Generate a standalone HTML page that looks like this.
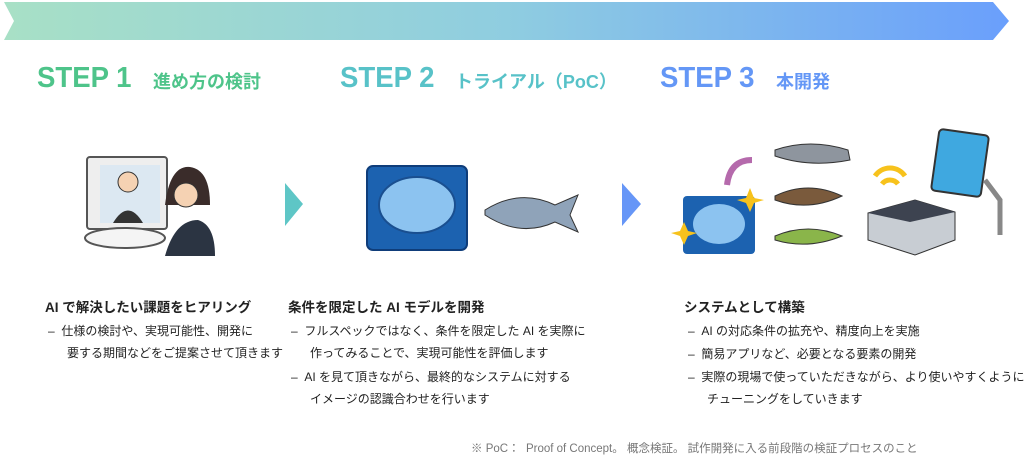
<!DOCTYPE html>
<html><head><meta charset="utf-8"><style>
body{margin:0;width:1024px;height:463px;background:#fff;position:relative;overflow:hidden;font-family:"Liberation Sans","Noto Sans CJK JP",sans-serif;color:#222}
.a{position:absolute;white-space:nowrap}
.step{font-weight:bold;font-size:29px;top:62px;transform:scaleX(0.95);transform-origin:left}
.sub{font-weight:bold;font-size:18px;top:68px}
.h{font-weight:bold;font-size:13.5px}
.b{font-size:12px}
</style></head><body>
<svg class="a" style="left:0;top:0" width="1024" height="463">
<defs><linearGradient id="g" x1="0" x2="1"><stop offset="0" stop-color="#a8e0c6"/><stop offset="0.5" stop-color="#8fcde0"/><stop offset="1" stop-color="#6a9ffc"/></linearGradient></defs>
<polygon points="4,2 993,2 1009,21 993,40 4,40 14,21" fill="url(#g)"/>
<polygon points="285,183 303,204 285,226" fill="#5ec6c6"/>
<polygon points="622,183 641,204 622,226" fill="#6696f7"/>
<rect x="87" y="157" width="80" height="72" rx="3" fill="#eee" stroke="#555" stroke-width="2"/>
<rect x="100" y="165" width="60" height="58" fill="#dce8f2"/>
<circle cx="128" cy="182" r="10" fill="#f5d2b3" stroke="#333"/>
<path d="M113 223 Q128 198 143 223Z" fill="#333"/>
<ellipse cx="125" cy="238" rx="40" ry="10" fill="#f4f4f4" stroke="#555" stroke-width="2"/>
<path d="M165 205 Q170 165 190 167 Q210 170 210 205 Z" fill="#3a2c2a"/>
<circle cx="186" cy="195" r="12" fill="#f5d2b3" stroke="#333"/>
<path d="M165 256 Q175 220 198 220 Q215 225 215 256 Z" fill="#2b3442"/>
<rect x="367" y="166" width="100" height="84" rx="6" fill="#1c62b0" stroke="#0f3d7a" stroke-width="2"/>
<ellipse cx="417" cy="205" rx="38" ry="28" fill="#8cc3f0" stroke="#1a4f90" stroke-width="2"/>
<path d="M485 210 Q520 188 555 205 L578 195 L570 215 L578 232 L555 222 Q520 238 485 215Z" fill="#8fa3b9" stroke="#333"/>
<rect x="683" y="196" width="72" height="58" rx="4" fill="#1c62b0"/>
<ellipse cx="719" cy="224" rx="26" ry="20" fill="#8cc3f0"/>
<polygon points="750,188 754,198 764,200 754,203 750,212 746,203 737,200 746,198" fill="#f7c21c"/>
<polygon points="684,222 688,231 697,233 688,236 684,245 680,236 671,233 680,231" fill="#f7c21c"/>
<path d="M752 160 Q730 160 727 185" stroke="#b56aac" stroke-width="6" fill="none"/>
<path d="M775 150 Q810 138 848 150 L850 160 Q810 168 775 156Z" fill="#8e959e" stroke="#333"/>
<path d="M775 196 Q808 180 842 196 Q808 212 775 200Z" fill="#7a5a3c" stroke="#333"/>
<path d="M775 236 Q808 222 842 236 Q808 250 775 240Z" fill="#8ab54a" stroke="#333"/>
<path d="M875 176 A18 18 0 0 1 905 176" stroke="#f7c21c" stroke-width="5" fill="none"/>
<path d="M882 184 A10 10 0 0 1 898 184" stroke="#f7c21c" stroke-width="5" fill="none"/>
<polygon points="868,213 915,200 955,212 955,240 915,255 868,240" fill="#c8cdd3" stroke="#333"/>
<polygon points="868,213 915,200 955,212 910,222" fill="#3d4350"/>
<rect x="935" y="132" width="50" height="62" rx="4" fill="#3fa8e0" stroke="#333" stroke-width="2" transform="rotate(8 960 163)"/>
<path d="M985 180 L1000 200 L1000 235" stroke="#888" stroke-width="5" fill="none"/>
</svg>
<div class="a step" style="left:37px;color:#4ec48a">STEP 1</div>
<div class="a sub" style="left:153px;color:#4ec48a">進め方の検討</div>
<div class="a step" style="left:340px;color:#58c2c8">STEP 2</div>
<div class="a sub" style="left:455px;color:#58c2c8">トライアル（PoC）</div>
<div class="a step" style="left:660px;color:#6497f6">STEP 3</div>
<div class="a sub" style="left:776px;color:#6497f6">本開発</div>

<div class="a h" style="left:45px;top:296px">AI で解決したい課題をヒアリング</div>
<div class="a b" style="left:48px;top:322px">–&nbsp;&nbsp;仕様の検討や、実現可能性、開発に</div>
<div class="a b" style="left:67px;top:344px">要する期間などをご提案させて頂きます</div>

<div class="a h" style="left:288px;top:296px">条件を限定した AI モデルを開発</div>
<div class="a b" style="left:291px;top:322px">–&nbsp;&nbsp;フルスペックではなく、条件を限定した AI を実際に</div>
<div class="a b" style="left:310px;top:344px">作ってみることで、実現可能性を評価します</div>
<div class="a b" style="left:291px;top:368px">–&nbsp;&nbsp;AI を見て頂きながら、最終的なシステムに対する</div>
<div class="a b" style="left:310px;top:390px">イメージの認識合わせを行います</div>

<div class="a h" style="left:684px;top:296px">システムとして構築</div>
<div class="a b" style="left:688px;top:322px">–&nbsp;&nbsp;AI の対応条件の拡充や、精度向上を実施</div>
<div class="a b" style="left:688px;top:345px">–&nbsp;&nbsp;簡易アプリなど、必要となる要素の開発</div>
<div class="a b" style="left:688px;top:368px">–&nbsp;&nbsp;実際の現場で使っていただきながら、より使いやすくように</div>
<div class="a b" style="left:707px;top:390px">チューニングをしていきます</div>

<div class="a" style="left:471px;top:440px;font-size:11.5px;color:#777">※ PoC：&nbsp;&nbsp;Proof of Concept。&nbsp;概念検証。&nbsp;試作開発に入る前段階の検証プロセスのこと</div>
</body></html>
